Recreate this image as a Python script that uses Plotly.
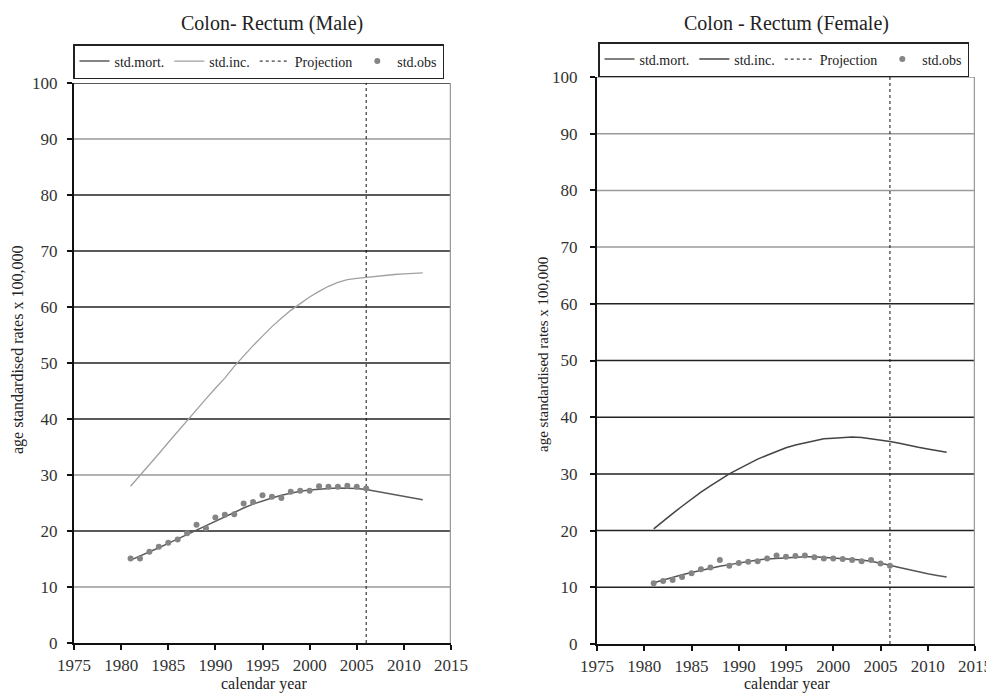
import plotly.graph_objects as go

# ---------------- data ----------------
years = list(range(1981, 2013))
obs_years = list(range(1981, 2007))
projection_year = 2006

male_inc = [28.0, 29.9, 31.9, 33.8, 35.8, 37.8, 39.8, 41.7, 43.6, 45.5, 47.3, 49.4,
            51.3, 53.1, 54.8, 56.5, 58.0, 59.4, 60.6, 61.8, 62.8, 63.7, 64.4, 64.9,
            65.1, 65.3, 65.5, 65.6, 65.8, 65.9, 66.0, 66.1]
male_mort = [14.8, 15.5, 16.3, 17.0, 17.8, 18.6, 19.4, 20.2, 21.0, 21.8, 22.6, 23.4,
             24.1, 24.8, 25.4, 25.9, 26.4, 26.8, 27.1, 27.3, 27.5, 27.6, 27.7, 27.7,
             27.6, 27.4, 27.1, 26.8, 26.5, 26.2, 25.9, 25.6]
male_obs = [15.1, 15.1, 16.3, 17.2, 17.9, 18.5, 19.6, 21.1, 20.5, 22.4, 22.9, 23.0,
            24.9, 25.2, 26.4, 26.1, 25.9, 27.0, 27.2, 27.2, 28.0, 27.9, 27.9, 28.1,
            27.9, 27.6]

female_inc = [20.3, 21.7, 23.0, 24.3, 25.6, 26.8, 27.9, 29.0, 30.0, 30.9, 31.8, 32.6,
              33.3, 34.0, 34.6, 35.1, 35.5, 35.9, 36.2, 36.3, 36.4, 36.5, 36.4, 36.2,
              36.0, 35.7, 35.4, 35.0, 34.7, 34.4, 34.1, 33.8]
female_mort = [10.8, 11.3, 11.8, 12.2, 12.6, 13.0, 13.4, 13.7, 14.0, 14.3, 14.5, 14.8,
               15.0, 15.1, 15.3, 15.4, 15.4, 15.4, 15.3, 15.2, 15.1, 15.0, 14.8, 14.6,
               14.3, 13.9, 13.5, 13.1, 12.8, 12.4, 12.1, 11.8]
female_obs = [10.7, 11.1, 11.3, 11.8, 12.5, 13.2, 13.5, 14.8, 13.8, 14.3, 14.5, 14.6,
              15.1, 15.6, 15.4, 15.5, 15.6, 15.3, 15.1, 15.1, 15.0, 14.8, 14.6, 14.8,
              14.2, 13.8]

titles = ["Colon- Rectum (Male)", "Colon - Rectum (Female)"]
legend_names = ["std.mort.", "std.inc.", "Projection", "std.obs"]
x_ticks = list(range(1975, 2016, 5))
y_ticks = list(range(0, 101, 10))
x_label = "calendar year"
y_label = "age standardised rates x 100,000"

# ---------------- layout helpers (screen px -> paper fraction) ----------------
OFF = 8            # default page body margin
W, H = 994 - OFF, 695 - OFF


def fx(sx):
    return (sx - OFF) / W


def fy(sy):
    return 1 - (sy - OFF) / H


FONT = "Liberation Serif"
TXT = "#333333"
panels = [
    dict(xa="x", ya="y", xdom=[fx(74), fx(451)], ydom=[fy(643), fy(83)], legend="legend",
         inc=male_inc, mort=male_mort, obs=male_obs,
         inc_color="#a0a0a0", inc_width=1.3, mort_color="#5a5a5a",
         grid_gray=[10, 30, 90], standoff=6),
    dict(xa="x2", ya="y2", xdom=[fx(597), fx(975)], ydom=[fy(644), fy(77)], legend="legend2",
         inc=female_inc, mort=female_mort, obs=female_obs,
         inc_color="#444444", inc_width=1.5, mort_color="#555555",
         grid_gray=[70, 80, 90, 100], standoff=9),
]

fig = go.Figure()
shapes = []
for p in panels:
    fig.add_trace(go.Scatter(x=years, y=p["mort"], mode="lines", name=legend_names[0],
                             line=dict(color=p["mort_color"], width=1.5),
                             xaxis=p["xa"], yaxis=p["ya"], legend=p["legend"]))
    fig.add_trace(go.Scatter(x=years, y=p["inc"], mode="lines", name=legend_names[1],
                             line=dict(color=p["inc_color"], width=p["inc_width"]),
                             xaxis=p["xa"], yaxis=p["ya"], legend=p["legend"]))
    fig.add_trace(go.Scatter(x=[projection_year, projection_year], y=[y_ticks[0], y_ticks[-1]],
                             mode="lines", name=legend_names[2],
                             line=dict(color="#111111", width=1, dash="dot"),
                             xaxis=p["xa"], yaxis=p["ya"], legend=p["legend"]))
    fig.add_trace(go.Scatter(x=obs_years, y=p["obs"], mode="markers", name=legend_names[3],
                             marker=dict(color="#858585", size=6),
                             xaxis=p["xa"], yaxis=p["ya"], legend=p["legend"]))
    # grid lines (mixed shades as in the reference)
    for v in y_ticks[1:]:
        col = "#9a9a9a" if v in p["grid_gray"] else "#222222"
        shapes.append(dict(type="line", xref=p["xa"], yref=p["ya"], x0=x_ticks[0], x1=x_ticks[-1],
                           y0=v, y1=v, line=dict(color=col, width=1.5), layer="below"))
    # right border (gray)
    shapes.append(dict(type="line", xref=p["xa"], yref=p["ya"], x0=x_ticks[-1], x1=x_ticks[-1],
                       y0=y_ticks[0], y1=y_ticks[-1], line=dict(color="#9a9a9a", width=2.5),
                       layer="below"))

axis_common = dict(showgrid=False, zeroline=False, showline=True, linecolor="#111111",
                   linewidth=2, ticks="outside", ticklen=5, tickcolor="#111111", tickwidth=1.5,
                   automargin=False,
                   tickfont=dict(family=FONT, size=17, color=TXT))

layout = dict(
    width=W, height=H, paper_bgcolor="white", plot_bgcolor="white",
    margin=dict(l=0, r=0, t=0, b=0, autoexpand=False), showlegend=True, shapes=shapes,
    font=dict(family=FONT, color=TXT),
)
for i, p in enumerate(panels):
    xn = "xaxis" if i == 0 else "xaxis2"
    yn = "yaxis" if i == 0 else "yaxis2"
    layout[xn] = dict(axis_common, domain=p["xdom"], range=[x_ticks[0], x_ticks[-1]],
                      tickvals=x_ticks, anchor=p["ya"], ticklabelstandoff=1)
    layout[yn] = dict(axis_common, domain=p["ydom"], range=[y_ticks[0], y_ticks[-1]],
                      tickvals=y_ticks, anchor=p["xa"], ticklabelstandoff=p["standoff"])

legend_common = dict(orientation="h", xanchor="left", yanchor="top", bgcolor="white",
                     bordercolor="#222222", borderwidth=1.5, itemwidth=30,
                     font=dict(family=FONT, size=14, color="#222222"), tracegroupgap=0)
layout["legend"] = dict(legend_common, x=fx(73), y=fy(44))
layout["legend2"] = dict(legend_common, x=fx(598), y=fy(42))

ann_font = dict(family=FONT, color="#222222")
annotations = [
    dict(text=titles[0], x=fx(272), y=fy(23), font=dict(ann_font, size=20)),
    dict(text=titles[1], x=fx(786), y=fy(23), font=dict(ann_font, size=20)),
    dict(text=x_label, x=fx(264), y=fy(684), font=dict(ann_font, size=16)),
    dict(text=x_label, x=fx(787), y=fy(684), font=dict(ann_font, size=16)),
    dict(text=y_label, x=fx(18), y=fy(350), textangle=-90, font=dict(ann_font, size=16)),
    dict(text=y_label, x=fx(543), y=fy(355), textangle=-90, font=dict(ann_font, size=15)),
]
for a in annotations:
    a.update(xref="paper", yref="paper", xanchor="center", yanchor="middle", showarrow=False)
layout["annotations"] = annotations

fig.update_layout(**layout)
fig.write_html("out.html")
